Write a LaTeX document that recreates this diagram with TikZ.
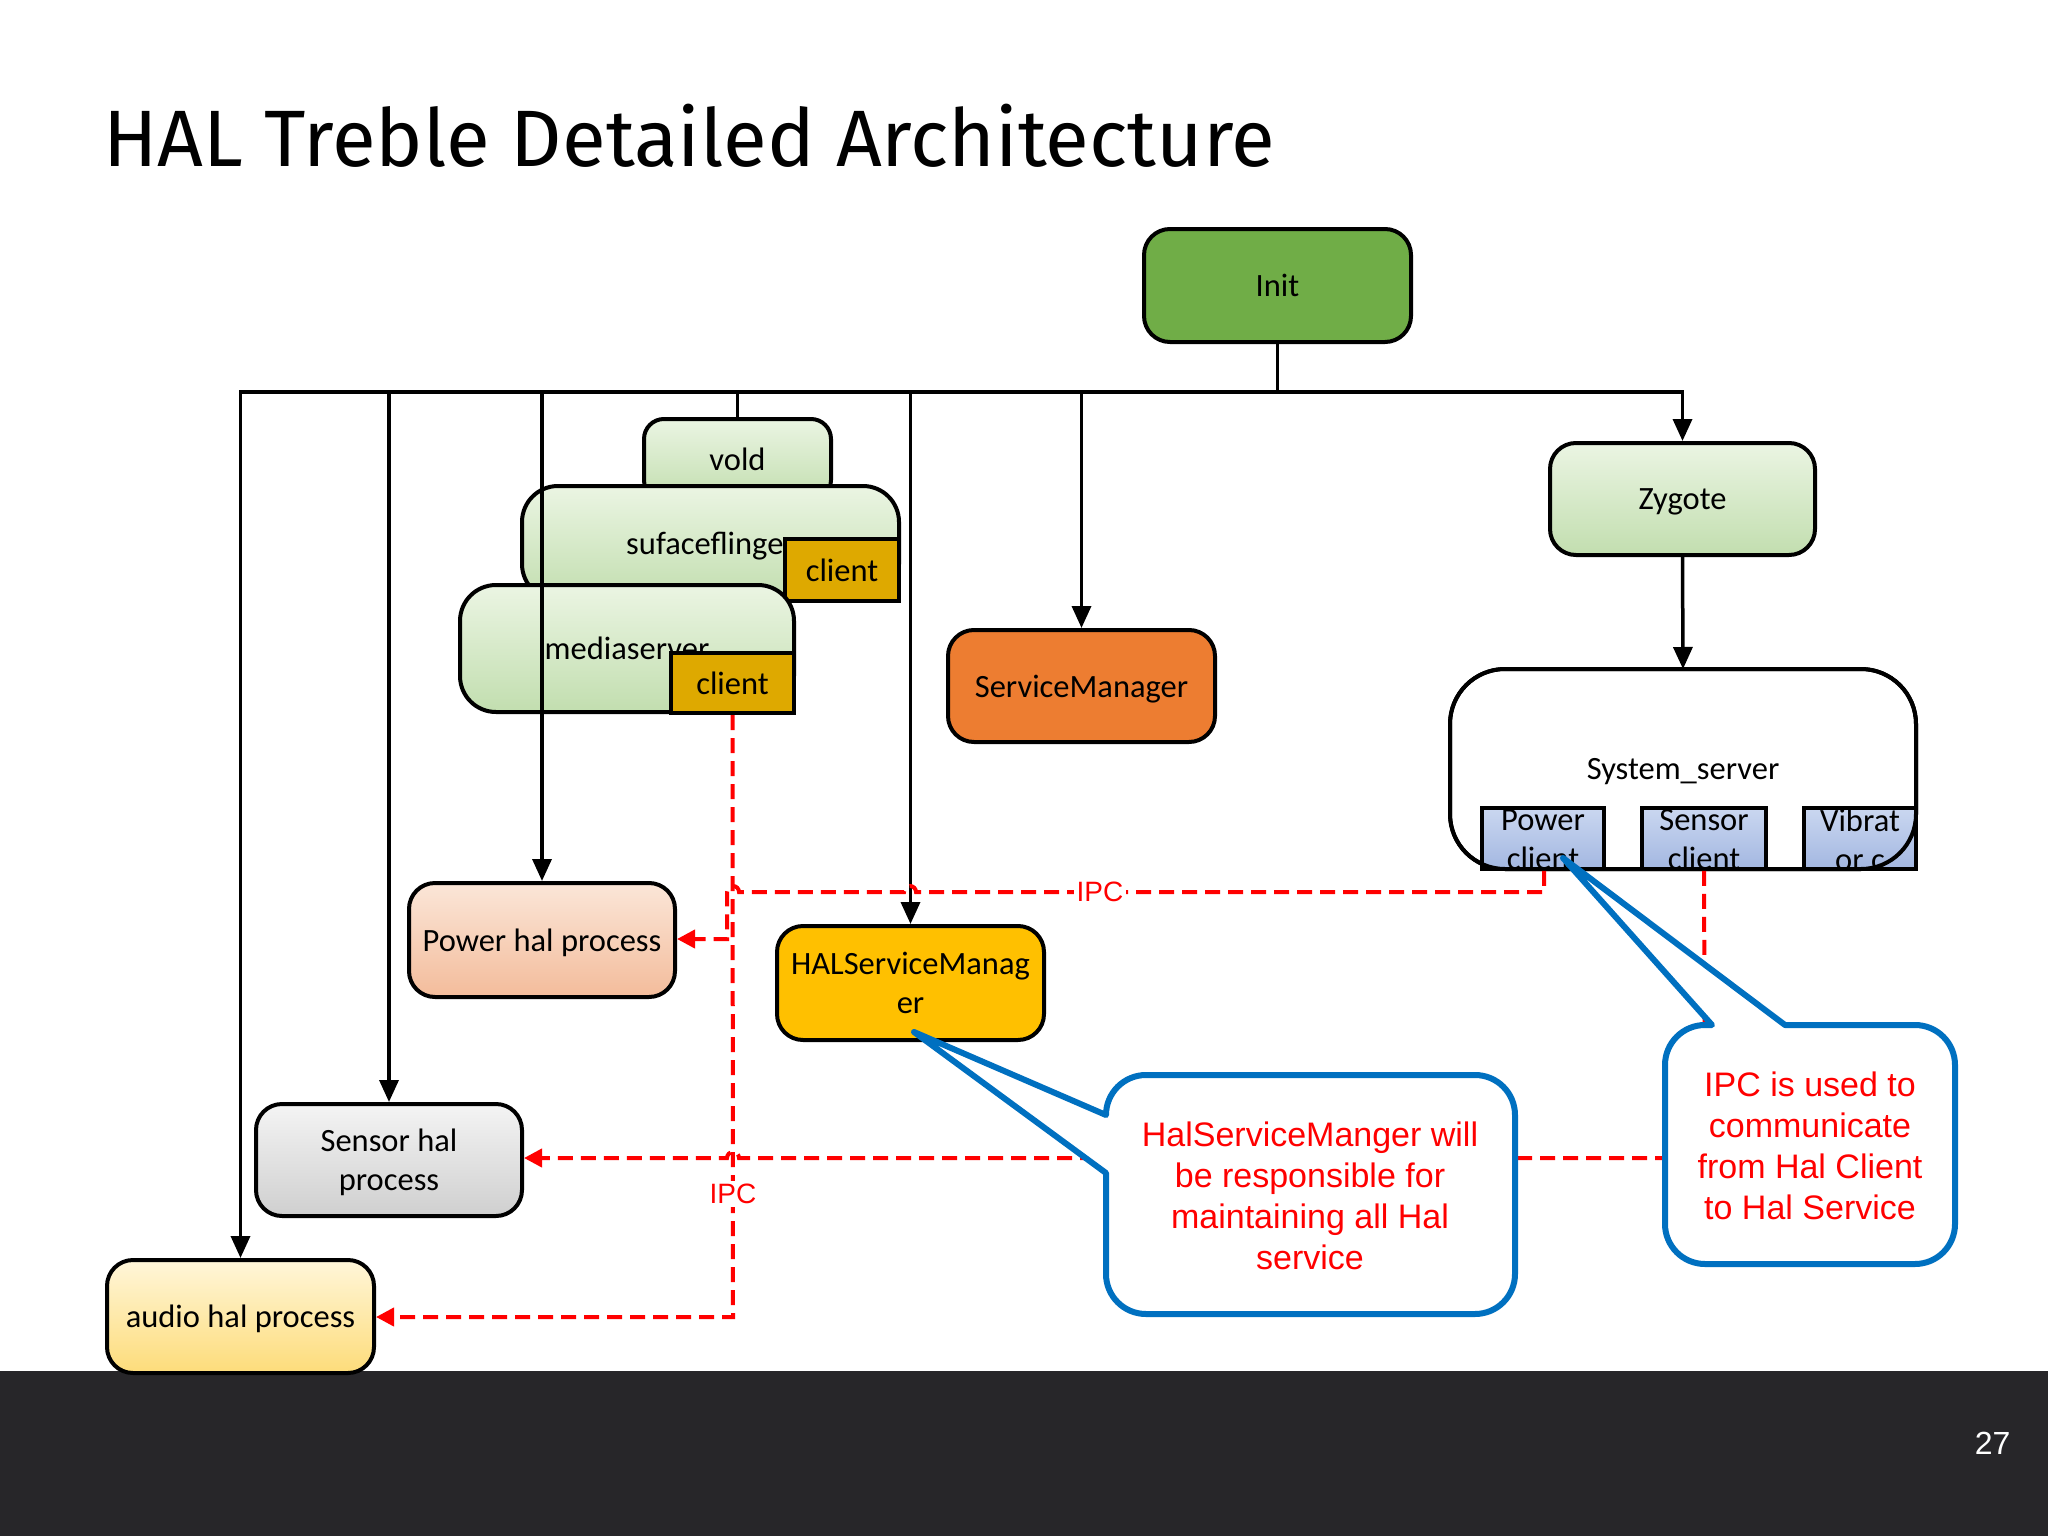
\documentclass[tikz,border=0pt]{standalone}
\usepackage{fontspec}
\setmainfont{Carlito}
\newfontfamily\titlefont{Fira Sans}
\newfontfamily\arialfont{Liberation Sans}
\usetikzlibrary{arrows.meta}
\definecolor{initgreen}{HTML}{70AD47}
\definecolor{gtop}{HTML}{EBF5E3}
\definecolor{gbot}{HTML}{C2DEAF}
\definecolor{gold}{HTML}{DEA900}
\definecolor{smorange}{HTML}{ED7D31}
\definecolor{hsmyellow}{HTML}{FFC000}
\definecolor{ctop}{HTML}{CAD7F0}
\definecolor{cbot}{HTML}{A3B7E1}
\definecolor{ptop}{HTML}{FBE6D8}
\definecolor{pbot}{HTML}{F3BC9B}
\definecolor{stop}{HTML}{F4F4F4}
\definecolor{sbot}{HTML}{CFCFCF}
\definecolor{atop}{HTML}{FFF6D9}
\definecolor{abot}{HTML}{FDDC7A}
\definecolor{cblue}{HTML}{0070C0}
\definecolor{ipcred}{HTML}{FF0000}
\definecolor{band}{HTML}{272629}
\newcommand\lblfont{\fontsize{32.5}{39}\selectfont}
\newcommand\calfont{\arialfont\fontsize{34}{41}\selectfont}
\newcommand\ipcfont{\arialfont\fontsize{28}{32}\selectfont}
\tikzset{
  bx/.style={draw=black, line width=4pt, rounded corners=26pt, inner sep=0pt, align=center, font=\lblfont, text depth=0pt},
  greenbox/.style={bx, top color=gtop, bottom color=gbot},
  goldbox/.style={draw=black, line width=4pt, fill=gold, inner sep=0pt, font=\lblfont, text depth=0pt},
  clientbox/.style={draw=black, line width=3.6pt, top color=ctop, bottom color=cbot, inner sep=0pt},
  conn/.style={line width=3.5pt, draw=black},
  arr/.style={conn, -{Triangle[length=22pt,width=19pt]}},
  ipc/.style={draw=ipcred, line width=4pt, dash pattern=on 15pt off 8pt},
  ipcarr/.style={ipc, -{Triangle[length=18pt,width=18pt]}},
  ipclbl/.style={font=\ipcfont, text=ipcred, fill=white, inner sep=3pt},
  callout/.style={draw=cblue, line width=6pt, fill=white, line join=round},
  calltext/.style={font=\calfont, text=ipcred, align=center},
}
\begin{document}
\begin{tikzpicture}[x=1pt,y=-1pt]
\useasboundingbox (0,0) rectangle (2048,1536);
\fill[white] (0,0) rectangle (2048,1536);
\fill[band] (0,1371) rectangle (2048,1536);
\node[anchor=base east, font=\arialfont\fontsize{32}{38}\selectfont, text=white] (pnum) at (2014,1454) {27};

\node[anchor=base west, font=\titlefont\fontsize{80}{96}\selectfont, inner sep=0pt] (title) at (103,167) {HAL Treble Detailed Architecture};

% boxes
\node[bx, fill=initgreen, minimum width=267pt, minimum height=113pt] (init) at (1277.5,285.5) {Init};
\node[greenbox, minimum width=265pt, minimum height=112pt] (zyg) at (1682.5,499) {Zygote};

\node[bx, fill=white, rounded corners=55pt, outer sep=0pt, minimum width=466pt, minimum height=200pt] (ss) at (1683,769) {System\_server};
\node[clientbox, minimum width=122pt, minimum height=61pt] (pc) at (1543,838.5) {};
\node[clientbox, minimum width=124pt, minimum height=61pt] (sc) at (1704,838.5) {};
\node[clientbox, minimum width=112pt, minimum height=61pt] (vc) at (1860,838.5) {};
\begin{scope}
\clip (pc.south west) rectangle (pc.north east);
\node[font=\lblfont, align=center, inner sep=0pt] (pct) at (1543,840) {Power\\client};
\end{scope}
\begin{scope}
\clip (sc.south west) rectangle (sc.north east);
\node[font=\lblfont, align=center, inner sep=0pt] (sct) at (1704,840) {Sensor\\client};
\end{scope}
\begin{scope}
\clip (vc.south west) rectangle (vc.north east);
\node[font=\lblfont, align=center, inner sep=0pt] (vct) at (1860,840) {Vibrat\\or c};
\end{scope}
\draw[line width=4pt, rounded corners=55pt] (ss.south west) rectangle (ss.north east);

\node[greenbox, rounded corners=20pt, minimum width=187pt, minimum height=81pt] (vold) at (737.5,459.5) {vold};
\node[greenbox, rounded corners=36pt, minimum width=377pt, minimum height=114pt] (sf) at (710.5,543) {sufaceflinger};
\node[goldbox, minimum width=114pt, minimum height=62pt] (sfc) at (842,570) {client};
\node[greenbox, rounded corners=36pt, minimum width=334pt, minimum height=127pt] (ms) at (627,648.5) {mediaserver};
\node[goldbox, minimum width=123pt, minimum height=60pt] (msc) at (732.5,683) {client};

\node[bx, fill=smorange, minimum width=267pt, minimum height=112pt] (sm) at (1081.5,686) {ServiceManager};
\node[bx, fill=hsmyellow, minimum width=267pt, minimum height=114pt] (hsm) at (910.5,983) {HALServiceManag\\er};
\node[bx, top color=ptop, bottom color=pbot, minimum width=266pt, minimum height=114pt] (phal) at (542,940) {Power hal process};
\node[bx, top color=stop, bottom color=sbot, minimum width=266pt, minimum height=112pt] (shal) at (389,1160) {Sensor hal\\process};
\node[bx, top color=atop, bottom color=abot, minimum width=267pt, minimum height=113pt] (ahal) at (240.5,1316.5) {audio hal process};

% black connectors
\coordinate (bj) at (1277.5,392);
\coordinate (bl) at (240.5,392);
\draw[conn] (init.south) -- (bj);
\draw[arr] (bj) -| (zyg.north);
\draw[arr] (zyg.south) -- (ss.north);
\draw[arr] (bj) -- (bl) -- (ahal.north);
\draw[arr] (shal.north |- bj) -- (shal.north);
\draw[arr] (phal.north |- bj) -- (phal.north);
\draw[conn] (vold.north |- bj) -- (vold.north);
\draw[arr] (hsm.north |- bj) -- (hsm.north);
\draw[arr] (sm.north |- bj) -- (sm.north);

% red IPC lines
\draw[ipcarr] (msc.south) -- (733,1317) -- (ahal.east |- 0,1317);
\node[ipclbl] (ipc2) at (733,1194) {IPC};
\draw[ipcarr] (pc.south -| 1544,0) -- (1544,892) -- (916,892)
  arc[start angle=0,end angle=180,radius=6pt] -- (739,892)
  arc[start angle=0,end angle=180,radius=6pt] -- (727,939) -- (phal.east |- 0,939);
\node[ipclbl] (ipc1) at (1100,892) {IPC};
\draw[ipcarr] (sc.south) -- (1705,1158) -- (739,1158)
  arc[start angle=0,end angle=180,radius=6pt] -- (shal.east |- 0,1158);

% callouts
\coordinate (tip1) at (914,1032);
\draw[callout] (tip1) -- (1106,1115) arc[start angle=180,end angle=90,radius=40pt]
  -- (1475,1075) arc[start angle=90,end angle=0,radius=40pt]
  -- (1515,1274) arc[start angle=0,end angle=-90,radius=40pt]
  -- (1146,1314) arc[start angle=270,end angle=180,radius=40pt]
  -- (1106,1173) -- cycle;
\node[calltext] (c1) at (1310,1196) {HalServiceManger will\\be responsible for\\maintaining all Hal\\service};

\coordinate (tip2) at (1563,858);
\draw[callout] (tip2) -- (1785,1025) -- (1915,1025) arc[start angle=90,end angle=0,radius=40pt]
  -- (1955,1224) arc[start angle=0,end angle=-90,radius=40pt]
  -- (1705,1264) arc[start angle=270,end angle=180,radius=40pt]
  -- (1665,1065) arc[start angle=180,end angle=90,radius=40pt]
  -- (1712,1025) -- cycle;
\node[calltext] (c2) at (1810,1146) {IPC is used to\\communicate\\from Hal Client\\to Hal Service};
\end{tikzpicture}
\end{document}
